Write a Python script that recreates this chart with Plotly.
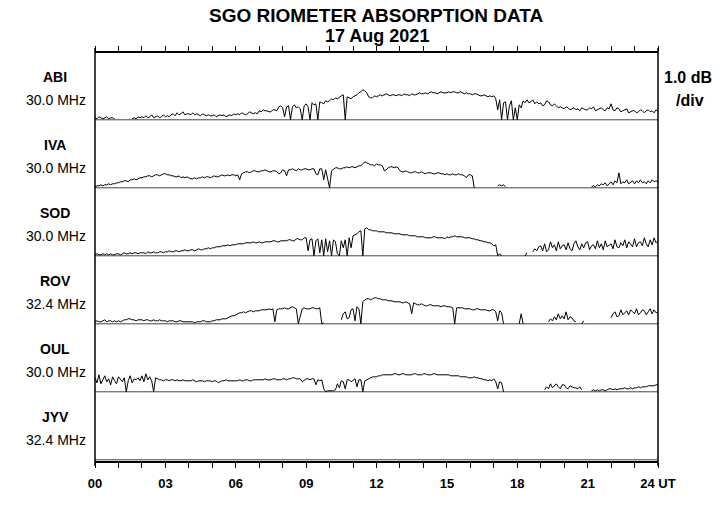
import numpy as np
import plotly.graph_objects as go
from plotly.subplots import make_subplots

# ---------------- data ----------------
STATIONS = ["ABI", "IVA", "SOD", "ROV", "OUL", "JYV"]
FREQS = ["30.0 MHz", "30.0 MHz", "30.0 MHz", "32.4 MHz", "30.0 MHz", "32.4 MHz"]
TICK_HOURS = list(range(0, 25))
TICK_LABELS = [("24 UT" if h == 24 else (f"{h:02d}" if h % 3 == 0 else "")) for h in TICK_HOURS]
STEP_MIN = 5           # sampling interval of the series (minutes)
N = None               # missing data

# absorption, in 0.01 dB, one value every 5 minutes from 00:00 to 24:00 (one row per hour)
abi = [2, 1, 3, 2, 1, 2, 3, 1, 2, 2, 1, N,
       N, N, N, N, N, N, N, 1, 2, 1, 3, 2,
       3, 2, 4, 2, 3, 5, 2, 3, 4, 2, 3, 5,
       3, 4, 3, 5, 6, 4, 7, 5, 6, 8, 5, 6,
       6, 5, 7, 5, 6, 5, 4, 6, 5, 4, 5, 4,
       4, 5, 3, 4, 5, 4, 5, 3, 4, 5, 4, 6,
       5, 6, 5, 7, 6, 5, 6, 8, 7, 6, 7, 6,
       9, 8, 10, 9, 9, 8, 8, 10, 10, 9, 13, 14,
       12, 3, 13, 14, 0, 13, 15, 12, 13, 11, 0, 14,
       16, 13, 0, 17, 15, 16, 0, 18, 17, 16, 19, 18,
       19, 21, 20, 22, 21, 23, 24, 25, 0, 23, 22, 21,
       23, 24, 25, 27, 28, 30, 29, 27, 23, 22, 22, 24,
       23, 24, 25, 24, 25, 26, 25, 24, 25, 25, 24, 25,
       25, 24, 26, 25, 25, 24, 26, 25, 25, 26, 27, 26,
       26, 27, 26, 27, 28, 27, 27, 26, 27, 28, 27, 27,
       27, 28, 27, 28, 28, 27, 27, 28, 27, 26, 27, 26,
       26, 25, 26, 26, 25, 24, 24, 25, 24, 23, 24, 23,
       24, 21, 10, 20, 0, 17, 18, 0, 14, 19, 0, 12,
       0, 15, 12, 19, 17, 20, 17, 18, 20, 16, 18, 16,
       17, 14, 15, 19, 18, 15, 14, 16, 14, 12, 13, 12,
       11, 13, 12, 10, 11, 12, 10, 11, 9, 12, 11, 10,
       10, 12, 11, 13, 9, 10, 11, 12, 10, 9, 12, 11,
       16, 10, 9, 12, 11, 8, 9, 10, 11, 7, 8, 9,
       9, 7, 8, 10, 9, 7, 9, 10, 8, 9, 7, 10,
       8]

iva = [1, 2, 2, 3, 2, 3, 3, 4, 3, 4, 4, 5,
       5, 6, 6, 7, 7, 6, 8, 8, 9, 8, 9, 10,
       10, 11, 11, 12, 12, 11, 12, 13, 13, 12, 13, 14,
       14, 13, 13, 12, 12, 11, 11, 12, 10, 11, 10, 11,
       10, 9, 9, 10, 9, 10, 10, 11, 10, 11, 11, 10,
       11, 12, 11, 11, 12, 13, 12, 12, 13, 12, 13, 13,
       12, 13, 8, 14, 15, 16, 16, 15, 16, 17, 17, 16,
       16, 17, 17, 18, 17, 16, 16, 17, 17, 16, 14, 15,
       18, 17, 12, 18, 18, 19, 18, 17, 19, 18, 18, 19,
       19, 18, 18, 19, 19, 14, 13, 19, 19, 8, 18, 10,
       0, 17, 19, 20, 20, 19, 19, 20, 20, 21, 20, 21,
       21, 20, 21, 22, 22, 24, 26, 25, 24, 23, 23, 22,
       24, 23, 23, 22, 17, 18, 20, 21, 21, 20, 21, 20,
       17, 16, 16, 17, 16, 15, 15, 16, 16, 15, 15, 16,
       15, 14, 15, 15, 15, 14, 14, 15, 15, 14, 14, 13,
       14, 13, 13, 14, 13, 13, 14, 13, 13, 12, 10, 13,
       13, 12, 0, N, N, N, N, N, N, N, N, N,
       N, N, 2, 3, 2, 3, 1, N, N, N, N, N,
       N, N, N, N, N, N, N, N, N, N, N, N,
       N, N, N, N, N, N, N, N, N, N, N, N,
       N, N, N, N, N, N, N, N, N, N, N, N,
       N, N, 1, 2, 1, 3, 2, 4, 3, 5, 2, 4,
       6, 3, 7, 5, 15, 4, 6, 5, 8, 4, 6, 7,
       4, 7, 5, 8, 5, 6, 4, 7, 5, 8, 6, 7,
       6]

sod = [1, 2, 1, 1, 2, 1, 2, 1, 2, 1, 1, 2,
       2, 1, 2, 3, 2, 2, 3, 2, 3, 3, 2, 3,
       3, 3, 2, 4, 3, 3, 4, 3, 3, 4, 4, 3,
       4, 4, 5, 4, 4, 5, 5, 4, 5, 5, 6, 5,
       5, 6, 6, 5, 6, 7, 6, 6, 7, 7, 8, 7,
       8, 8, 9, 9, 9, 10, 10, 10, 11, 10, 11, 11,
       11, 12, 12, 12, 12, 13, 13, 13, 13, 14, 13, 13,
       14, 13, 13, 14, 14, 14, 14, 15, 15, 14, 14, 15,
       15, 15, 15, 16, 16, 15, 15, 17, 17, 16, 16, 18,
       18, 5, 16, 17, 0, 15, 17, 3, 16, 0, 17, 4,
       15, 0, 16, 14, 2, 0, 15, 8, 16, 0, 18, 8,
       20, 21, 22, 24, 25, 0, 27, 28, 26, 26, 25, 25,
       25, 24, 24, 24, 24, 23, 23, 23, 23, 22, 22, 22,
       22, 21, 21, 21, 21, 20, 20, 20, 20, 19, 19, 19,
       19, 18, 18, 18, 18, 19, 19, 18, 18, 18, 18, 17,
       19, 18, 19, 19, 20, 19, 19, 19, 19, 18, 18, 18,
       18, 17, 17, 16, 16, 15, 15, 14, 14, 13, 13, 12,
       10, 11, 0, 2, 0, N, N, N, N, N, N, N,
       N, N, N, N, 0, 3, N, N, 4, 7, 5, 9,
       10, 5, 12, 4, 6, 14, 8, 11, 5, 14, 7, 10,
       11, 6, 13, 7, 5, 12, 15, 9, 6, 12, 8, 13,
       14, 6, 10, 11, 7, 15, 8, 12, 6, 15, 9, 11,
       12, 7, 16, 9, 8, 13, 10, 16, 8, 14, 11, 9,
       17, 9, 13, 14, 10, 18, 12, 9, 16, 11, 18, 13,
       15]

rov = [2, 3, 2, 2, 3, 4, 2, 3, 3, 2, 3, 2,
       3, 2, 3, 4, 4, 5, 5, 4, 4, 3, 4, 4,
       4, 3, 4, 4, 3, 3, 4, 3, 3, 4, 3, 3,
       3, 2, 3, 3, 3, 2, 2, 3, 3, 2, 2, 2,
       2, 2, 2, 1, 2, 2, 2, 3, 3, 2, 2, 2,
       3, 3, 4, 4, 4, 5, 5, 5, 6, 7, 8, 8,
       9, 10, 11, 11, 12, 11, 12, 13, 13, 12, 13, 13,
       13, 14, 14, 14, 14, 15, 14, 15, 2, 14, 15, 15,
       15, 16, 15, 15, 16, 17, 16, 15, 0, 8, 15, 16,
       15, 15, 15, 16, 16, 15, 15, 16, 0, 1, N, N,
       N, N, N, N, N, N, 4, 10, 12, 5, 6, 14,
       15, 3, 17, 15, 0, 22, 24, 25, 25, 24, 25, 26,
       26, 25, 25, 24, 24, 24, 23, 23, 23, 22, 22, 22,
       22, 21, 21, 22, 21, 20, 10, 21, 20, 19, 19, 20,
       19, 18, 18, 19, 19, 18, 18, 18, 18, 17, 18, 18,
       17, 17, 17, 16, 0, 16, 16, 16, 16, 15, 15, 15,
       15, 14, 14, 15, 15, 14, 14, 14, 14, 13, 13, 14,
       14, 12, 3, 13, 11, 0, N, N, N, N, N, N,
       N, 0, 10, 0, N, N, N, N, N, N, N, N,
       N, N, N, N, 2, 5, 3, 7, 4, 10, 5, 8,
       5, 12, 4, 7, 6, 3, 2, N, N, 0, 3, N,
       N, N, N, N, N, N, N, N, N, N, N, N,
       6, 10, 12, 7, 8, 14, 9, 11, 13, 9, 14, 12,
       10, 15, 9, 11, 14, 13, 9, 12, 15, 10, 14, 11,
       12]

oul = [14, 9, 17, 8, 12, 16, 10, 13, 7, 15, 11, 8,
       15, 12, 10, 14, 0, 11, 16, 9, 13, 12, 14, 11,
       16, 10, 18, 12, 15, 11, 0, 14, 13, 12, 12, 11,
       12, 12, 11, 12, 12, 11, 12, 11, 11, 12, 11, 11,
       11, 11, 12, 11, 10, 11, 11, 11, 10, 11, 11, 11,
       10, 11, 11, 9, 10, 11, 11, 12, 11, 11, 11, 11,
       11, 11, 12, 11, 11, 12, 12, 11, 11, 12, 12, 12,
       12, 12, 12, 13, 12, 12, 12, 13, 13, 12, 12, 12,
       13, 13, 12, 13, 13, 14, 14, 13, 13, 13, 10, 12,
       13, 13, 12, 13, 13, 7, 12, 11, 12, 3, 0, 1,
       1, 1, 1, 2, 8, 4, 11, 10, 3, 12, 12, 10,
       12, 13, 5, 12, 12, 0, 11, 12, 13, 14, 15, 15,
       15, 16, 16, 17, 17, 17, 17, 17, 17, 18, 18, 17,
       17, 18, 18, 17, 17, 17, 17, 18, 18, 17, 17, 17,
       18, 18, 17, 17, 17, 18, 18, 17, 17, 17, 17, 17,
       17, 17, 16, 16, 16, 16, 16, 15, 15, 15, 15, 14,
       14, 14, 15, 14, 14, 13, 13, 12, 12, 11, 12, 11,
       13, 10, 3, 10, 9, 0, N, N, N, N, N, N,
       N, N, N, N, N, N, N, N, N, N, N, N,
       N, N, 2, 5, 3, 8, 4, 6, 8, 5, 3, 7,
       7, 4, 3, 6, 5, 4, 4, 3, 5, 2, N, N,
       N, N, 1, 2, 1, 2, 1, 2, 2, 1, 2, 3,
       3, 2, 3, 2, 3, 3, 3, 4, 3, 3, 4, 3,
       4, 4, 5, 4, 5, 5, 5, 6, 6, 6, 6, 7,
       7]

jyv = []   # no data for JYV

SERIES = [abi, iva, sod, rov, oul, jyv]
X_MIN, X_MAX = 0, 24

# ---------------- figure ----------------
W, H = 728, 518
L, R, T, B = 95, 70, 53, 57
PW, PH = W - L - R, H - T - B
FONT = "Liberation Sans, Arial, Helvetica, sans-serif"


def px_x(px):
    return (px - L) / PW


def px_y(py):
    return (H - B - py) / PH


fig = make_subplots(rows=6, cols=1, shared_xaxes=True, vertical_spacing=0)

for i, vals in enumerate(SERIES):
    row = i + 1
    # baseline (zero absorption level)
    fig.add_trace(go.Scatter(x=[X_MIN, X_MAX], y=[0, 0], mode="lines",
                             line=dict(color="#444444", width=1),
                             hoverinfo="skip", showlegend=False), row=row, col=1)
    if vals:
        v = np.array([np.nan if a is None else a for a in vals], dtype=float) / 100.0
        t = np.arange(len(v)) * STEP_MIN / 60.0
        fig.add_trace(go.Scatter(x=t, y=v, mode="lines",
                                 line=dict(color="black", width=1),
                                 connectgaps=False, showlegend=False), row=row, col=1)

fig.update_xaxes(range=[X_MIN, X_MAX], showgrid=False, zeroline=False,
                 showline=False, ticks="", showticklabels=False)
fig.update_yaxes(range=[-0.012, 0.668], showgrid=False, zeroline=False,
                 showline=False, ticks="", showticklabels=False)

fig.update_layout(
    xaxis=dict(side="top", showline=True, linecolor="black", linewidth=1.5,
               ticks="outside", ticklen=5, tickwidth=1, tickcolor="black",
               tickmode="array", tickvals=TICK_HOURS, showticklabels=False),
    xaxis6=dict(showline=True, linecolor="black", linewidth=1.5,
                ticks="outside", ticklen=5, tickwidth=1, tickcolor="black",
                tickmode="array", tickvals=TICK_HOURS,
                ticktext=[f"<b>{s}</b>" if s else "" for s in TICK_LABELS],
                showticklabels=True, ticklabelstandoff=5,
                tickfont=dict(family=FONT, size=13, color="black")),
)

shapes = []
for xp in (0, 1):
    shapes.append(dict(type="line", xref="paper", yref="paper",
                       x0=xp, x1=xp, y0=-5 / PH, y1=1 + 5 / PH,
                       line=dict(color="black", width=1.5)))

ann = []
ann.append(dict(text="<b>SGO RIOMETER ABSORPTION DATA</b>", xref="paper", yref="paper",
                x=0.5, y=px_y(15), xanchor="center", yanchor="middle", showarrow=False,
                font=dict(family=FONT, size=19, color="black")))
ann.append(dict(text="<b>17 Aug 2021</b>", xref="paper", yref="paper",
                x=0.5, y=px_y(36), xanchor="center", yanchor="middle", showarrow=False,
                font=dict(family=FONT, size=18, color="black")))
for i, (st, fq) in enumerate(zip(STATIONS, FREQS)):
    ann.append(dict(text=f"<b>{st}</b>", xref="paper", yref="paper",
                    x=px_x(55), y=px_y(77 + 68 * i), xanchor="center", yanchor="middle",
                    showarrow=False, font=dict(family=FONT, size=14, color="black")))
    ann.append(dict(text=fq, xref="paper", yref="paper",
                    x=px_x(56), y=px_y(100 + 68 * i), xanchor="center", yanchor="middle",
                    showarrow=False, font=dict(family=FONT, size=14, color="black")))
ann.append(dict(text="<b>1.0 dB</b>", xref="paper", yref="paper",
                x=px_x(688), y=px_y(77), xanchor="center", yanchor="middle",
                showarrow=False, font=dict(family=FONT, size=16, color="black")))
ann.append(dict(text="<b>/div</b>", xref="paper", yref="paper",
                x=px_x(690), y=px_y(100), xanchor="center", yanchor="middle",
                showarrow=False, font=dict(family=FONT, size=16, color="black")))

fig.update_layout(width=W, height=H, margin=dict(l=L, r=R, t=T, b=B, pad=0),
                  paper_bgcolor="white", plot_bgcolor="white",
                  shapes=shapes, annotations=ann, showlegend=False,
                  font=dict(family=FONT, color="black"))

fig.write_html("out.html")
